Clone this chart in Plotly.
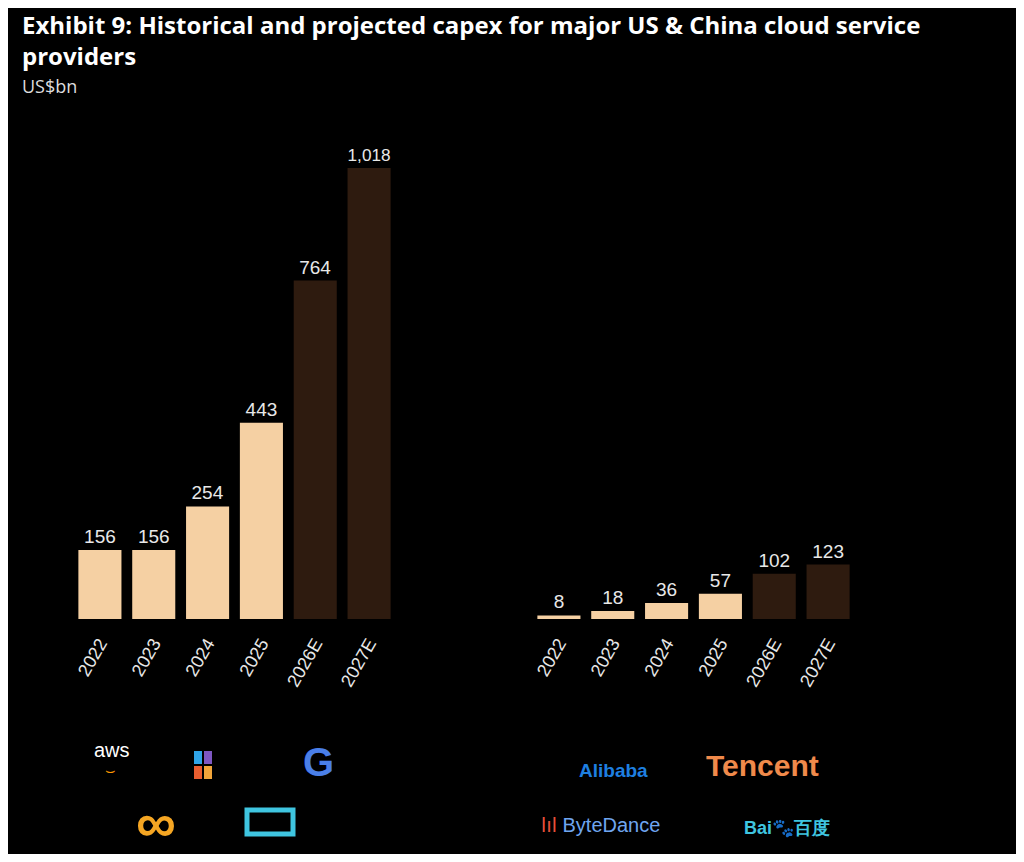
import plotly.graph_objects as go

years = ["2022", "2023", "2024", "2025", "2026E", "2027E"]
us_capex = [156, 156, 254, 443, 764, 1018]
cn_capex = [8, 18, 36, 57, 102, 123]
us_labels = ["156", "156", "254", "443", "764", "1,018"]
cn_labels = ["8", "18", "36", "57", "102", "123"]

light, dark = "#F5D0A3", "#2E1B0F"
colors = [light]*4 + [dark]*2
W, H, OFF = 1008, 846, 8

def px(x): return (x-OFF)/W
def py(y): return 1-(y-OFF)/H

fig = go.Figure()
fig.add_bar(x=years, y=us_capex, text=us_labels, marker_color=colors, xaxis="x", yaxis="y")
fig.add_bar(x=years, y=cn_capex, text=cn_labels, marker_color=colors, xaxis="x2", yaxis="y2")
fig.update_traces(textposition="outside", cliponaxis=False, marker_line_width=0,
                  textfont=dict(color="#e8e8e8", size=19, family="Liberation Sans"))

ydom = [py(619), py(131.7)]
ax = dict(showgrid=False, zeroline=False, showline=False, tickangle=-60,
          tickfont=dict(color="#e8e8e8", size=18, family="Liberation Sans"), ticks="outside",
          ticklen=6, tickcolor="black")
fig.update_layout(
    width=W, height=H, margin=dict(l=0, r=0, t=0, b=0),
    paper_bgcolor="black", plot_bgcolor="black", showlegend=False, bargap=0.2,
    xaxis=dict(domain=[px(73), px(396)], **ax),
    xaxis2=dict(domain=[px(532), px(855)], **ax),
    yaxis=dict(domain=ydom, range=[0, 1100], visible=False),
    yaxis2=dict(domain=ydom, range=[0, 1100], visible=False, anchor="x2"),
)

def ann(text, x, y, size, color, bold=False, family="Liberation Sans", xanchor="center"):
    fig.add_annotation(text=f"<b>{text}</b>" if bold else text, x=px(x), y=py(y),
                       xref="paper", yref="paper", showarrow=False, xanchor=xanchor,
                       yanchor="middle", font=dict(size=size, color=color, family=family))

ann("Exhibit 9: Historical and projected capex for major US &amp; China cloud service", 20, 25, 24, "white", True, "Open Sans", "left")
ann("providers", 20, 55, 24, "white", True, "Open Sans", "left")
ann("US$bn", 20, 86, 18, "#dddddd", False, "Open Sans", "left")

ann("aws", 112, 750, 20, "white")
ann("⌣", 110, 770, 16, "#FF9900")
for i, c in enumerate(["#2FA4E7", "#7E57C2", "#E85D2F", "#F2A53A"]):
    r, col = divmod(i, 2)
    fig.add_shape(type="rect", xref="paper", yref="paper",
                  x0=px(194+col*10), x1=px(202+col*10),
                  y0=py(764+r*15), y1=py(751+r*15), fillcolor=c, line_width=0)
ann("G", 318, 762, 40, "#4A7FE8", True)
ann("∞", 156, 822, 56, "#F5A623", True)
fig.add_shape(type="rect", xref="paper", yref="paper", x0=px(247), x1=px(293),
              y0=py(834), y1=py(810), line=dict(color="#3FC5E0", width=5))
ann("Alibaba", 613, 770, 19, "#1E7FE0", True)
ann("Tencent", 762, 765, 30, "#F08A4B", True)
ann("<span style='color:#E8503A'>ǀıǀ</span> ByteDance", 600, 825, 20, "#6FA6F0")
ann("Bai<span style='color:#3A7BE0'>🐾</span>百度", 787, 828, 18, "#3FC5E0", True)

fig.write_html("out.html")
